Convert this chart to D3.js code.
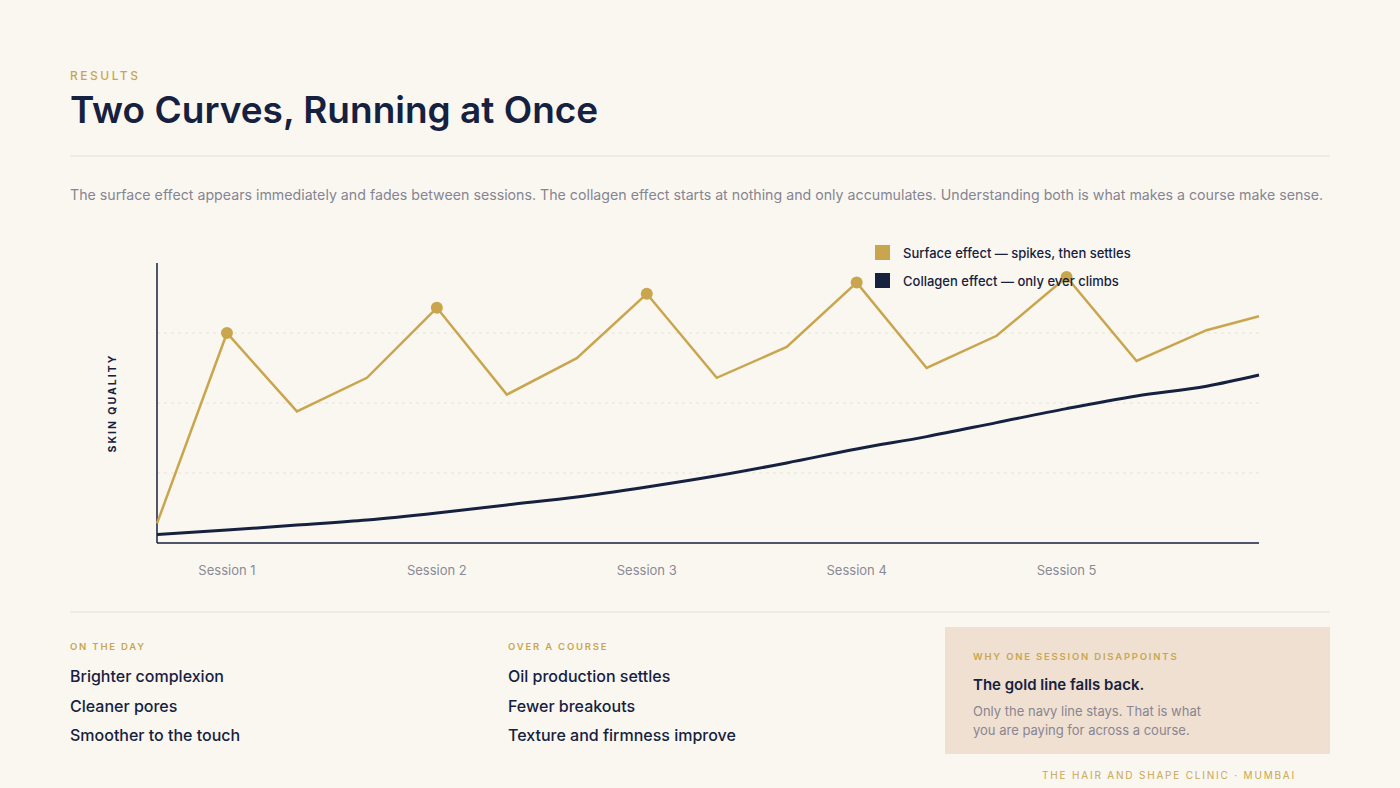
<!DOCTYPE html><html><head><meta charset="utf-8">
<script src="https://cdn.jsdelivr.net/npm/d3@7"></script>
<style>body{margin:0;background:#faf7f1;font-family:Inter,"Noto Sans",sans-serif}</style></head><body>
<svg id="c" width="1400" height="788"></svg>
<script>
const xs=[0,1,2,3,4,5,6,7,8,9,10,11,12,13,14,15,15.75];
const surface=[7,75,47,59,84,53,66,89,59,70,93,62.5,74,95,65,76,81];
const collagen=[3,4.6,6.4,8.2,10.7,13.6,16.4,20,24,28.6,33.6,38,43,48,52.5,56,60];
const peakIdx=[1,4,7,10,13];
const sessions=["Session 1","Session 2","Session 3","Session 4","Session 5"];
const sessionX=[1,4,7,10,13];
const gridVals=[25,50,75];
const gold="#c9a64e",navy="#16213f",grey="#8a8a95";
const svg=d3.select("#c");
svg.append("rect").attr("width",1400).attr("height",788).attr("fill","#faf7f1");
const t=(x,y,s,o)=>{const e=svg.append("text").attr("x",x).attr("y",y).text(s);for(const k in o)e.attr(k,o[k]);return e;};
t(70,80,"RESULTS",{fill:gold,"font-size":12,"letter-spacing":2.5,"font-weight":500});
t(70,123,"Two Curves, Running at Once",{fill:navy,"font-size":37,"font-weight":600});
svg.append("line").attr("x1",70).attr("x2",1330).attr("y1",156).attr("y2",156).attr("stroke","#e6e1d8");
t(70,200,"The surface effect appears immediately and fades between sessions. The collagen effect starts at nothing and only accumulates. Understanding both is what makes a course make sense.",{fill:"#868592","font-size":14.2});
const x=d3.scaleLinear().domain([0,15.75]).range([157,1259]);
const y=d3.scaleLinear().domain([0,100]).range([543,263]);
svg.selectAll(".g").data(gridVals).join("line").attr("x1",157).attr("x2",1259).attr("y1",d=>y(d)).attr("y2",d=>y(d)).attr("stroke","#e8e2d6").attr("stroke-dasharray","3,4");
svg.append("line").attr("x1",157).attr("x2",157).attr("y1",263).attr("y2",543).attr("stroke",navy).attr("stroke-width",1.5);
svg.append("line").attr("x1",157).attr("x2",1259).attr("y1",543).attr("y2",543).attr("stroke",navy).attr("stroke-width",1.5);
svg.selectAll(".s").data(sessions).join("text").attr("x",(d,i)=>x(sessionX[i])).attr("y",575).attr("text-anchor","middle").attr("fill",grey).attr("font-size",13).text(d=>d);
t(0,0,"SKIN QUALITY",{transform:"translate(116,403) rotate(-90)","text-anchor":"middle",fill:navy,"font-size":10.5,"font-weight":700,"letter-spacing":2});
const line=d3.line().x((d,i)=>x(xs[i])).y(d=>y(d));
svg.append("path").attr("d",line.curve(d3.curveMonotoneX)(collagen)).attr("fill","none").attr("stroke",navy).attr("stroke-width",3);
svg.append("path").attr("d",d3.line().x((d,i)=>x(xs[i])).y(d=>y(d))(surface)).attr("fill","none").attr("stroke",gold).attr("stroke-width",2.5);
svg.selectAll(".p").data(peakIdx).join("circle").attr("cx",i=>x(xs[i])).attr("cy",i=>y(surface[i])).attr("r",6).attr("fill",gold);
[["Surface effect — spikes, then settles",gold,253],["Collagen effect — only ever climbs",navy,281]].forEach(([s,c,yy])=>{
svg.append("rect").attr("x",875).attr("y",yy-8).attr("width",15).attr("height",15).attr("fill",c);
t(903,yy+5,s,{fill:navy,"font-size":13,"font-weight":500});});
svg.append("line").attr("x1",70).attr("x2",1330).attr("y1",612).attr("y2",612).attr("stroke","#e6e1d8");
const cols=[[70,"ON THE DAY",["Brighter complexion","Cleaner pores","Smoother to the touch"]],[508,"OVER A COURSE",["Oil production settles","Fewer breakouts","Texture and firmness improve"]]];
cols.forEach(([cx,h,items])=>{t(cx,650,h,{fill:gold,"font-size":9.5,"letter-spacing":1.8,"font-weight":600});
items.forEach((s,i)=>t(cx,682+i*29.5,s,{fill:navy,"font-size":16,"font-weight":500}));});
svg.append("rect").attr("x",945).attr("y",627).attr("width",385).attr("height",127).attr("fill","#efe0d2");
t(973,660,"WHY ONE SESSION DISAPPOINTS",{fill:gold,"font-size":9.5,"letter-spacing":1.8,"font-weight":600});
t(973,690,"The gold line falls back.",{fill:navy,"font-size":15,"font-weight":600});
t(973,716,"Only the navy line stays. That is what",{fill:"#8a8590","font-size":13});
t(973,735,"you are paying for across a course.",{fill:"#8a8590","font-size":13});
t(1296,779,"THE HAIR AND SHAPE CLINIC · MUMBAI",{fill:gold,"font-size":10,"letter-spacing":1.8,"text-anchor":"end"});
</script></body></html>
